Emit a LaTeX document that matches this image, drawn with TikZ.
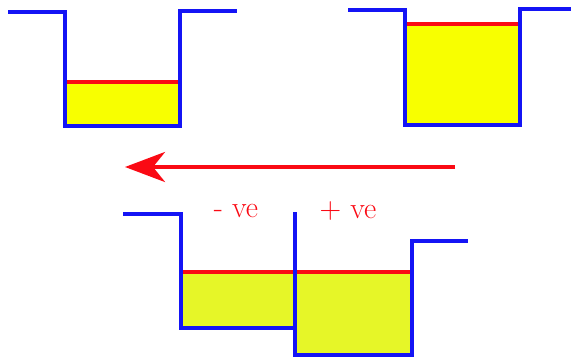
\documentclass[tikz,border=0pt]{standalone}
\usetikzlibrary{arrows.meta}
\definecolor{wblue}{RGB}{20,20,245}
\definecolor{wred}{RGB}{250,10,20}
\definecolor{yelA}{RGB}{248,255,0}
\definecolor{yelB}{RGB}{230,246,40}
\tikzset{
  wall/.style={draw=wblue,line width=4.5pt,line join=miter},
  level/.style={draw=wred,line width=3.5pt},
  liquidA/.style={fill=yelA},
  liquidB/.style={fill=yelB},
  lbl/.style={text=wred,font=\rmfamily\fontsize{30}{32}\selectfont,inner sep=0pt}
}
\begin{document}
\begin{tikzpicture}[x=1pt,y=-1pt]
\useasboundingbox (0,0) rectangle (571,359);
% well 1
\fill[liquidA] (65,82) rectangle (180,126);
\draw[level] (65,82) -- (180,82);
\draw[wall] (8,12) -- (65,12) -- (65,126) -- (180,126) -- (180,11) -- (237,11);
% well 2
\fill[liquidA] (405,24) rectangle (520,125);
\draw[level] (405,24) -- (520,24);
\draw[wall] (348,10) -- (405,10) -- (405,125) -- (520,125) -- (520,9) -- (571,9);
% arrow
\coordinate (as) at (455,167);
\coordinate (ae) at (125,167);
\draw[wred,line width=4pt,-{Stealth[length=40pt,width=30pt,inset=12pt]}] (as) -- (ae);
% bottom well
\fill[liquidB] (181,272) rectangle (295,328);
\fill[liquidB] (295,272) rectangle (412,355);
\draw[level] (181,272) -- (412,272);
\draw[wall] (123,214) -- (181,214) -- (181,328) -- (295,328);
\draw[wall] (295,212) -- (295,355) -- (412,355) -- (412,241) -- (468,241);
\node[lbl] (neg) at (236,211) {- ve};
\node[lbl] (pos) at (348,211) {+ ve};
\end{tikzpicture}
\end{document}
